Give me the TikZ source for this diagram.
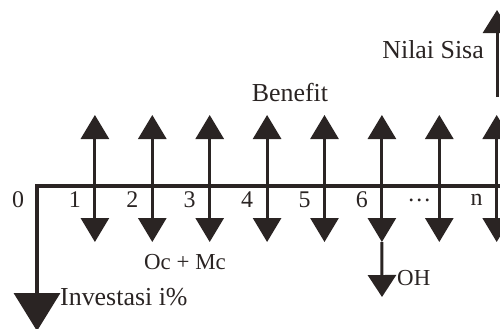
\documentclass[tikz,border=0pt]{standalone}
\usepackage{fontspec}
\setmainfont{Liberation Serif}
\usetikzlibrary{arrows.meta}
\definecolor{ink}{RGB}{42,36,35}

\begin{document}
\begin{tikzpicture}[x = 1bp, y = 1bp, color = ink,
    flow/.style = {line width = 3bp, -{Triangle[length = 24bp, width = 28bp]}},
    biglbl/.style = {font = \fontsize{26}{26}\selectfont, inner sep = 0pt},
    smalllbl/.style = {font = \fontsize{23}{23}\selectfont, inner sep = 0pt}]
            \useasboundingbox (0,0) rectangle (500,328);
            \coordinate (O) at (37,142);
            \coordinate (E) at (512,142);
            \coordinate (I) at (37,-3);
            \coordinate (H) at (382,31);
            \coordinate (S) at (497,231);
            \coordinate (R) at (497,318);
            % time axis and investment
            \draw[line width = 3.5bp, {Triangle[length = 38bp, width = 46bp]}-] (I) -- (O) -- (E);
            \node[smalllbl, font = \fontsize{24}{24}\selectfont] (P0) at (18,128) {0};
            % periods
            \foreach \k/\t in {1/1, 2/2, 3/3, 4/4, 5/5, 6/6, 7/\dots, 8/n}{
                \coordinate (T\k) at ({37.5+57.4*\k},142);
                \coordinate (U\k) at ({37.5+57.4*\k},213);
                \coordinate (D\k) at ({37.5+57.4*\k},86);
                \draw[flow] (T\k) -- (U\k);
                \draw[flow] (T\k) -- (D\k);
                \node[smalllbl, font = \fontsize{24}{24}\selectfont] (P\k) at ({17.5+57.4*\k},128) {\t};
            }
            \draw[flow, -{Triangle[length = 22bp, width = 28bp]}] (D6) -- (H);
            \draw[flow, -{Triangle[length = 23bp, width = 28bp]}] (S) -- (R);
            % labels
            \node[biglbl] (benefit) at (290,235) {Benefit};
            \node[biglbl, anchor = east] (sisa) at (484,278) {Nilai Sisa};
            \node[smalllbl] (ocmc) at (185,66) {Oc + Mc};
            \node[smalllbl, anchor = west] (oh) at (397,50) {OH};
            \node[biglbl, anchor = west] (inv) at (60,31) {Investasi i\%};
\end{tikzpicture}
\end{document}
